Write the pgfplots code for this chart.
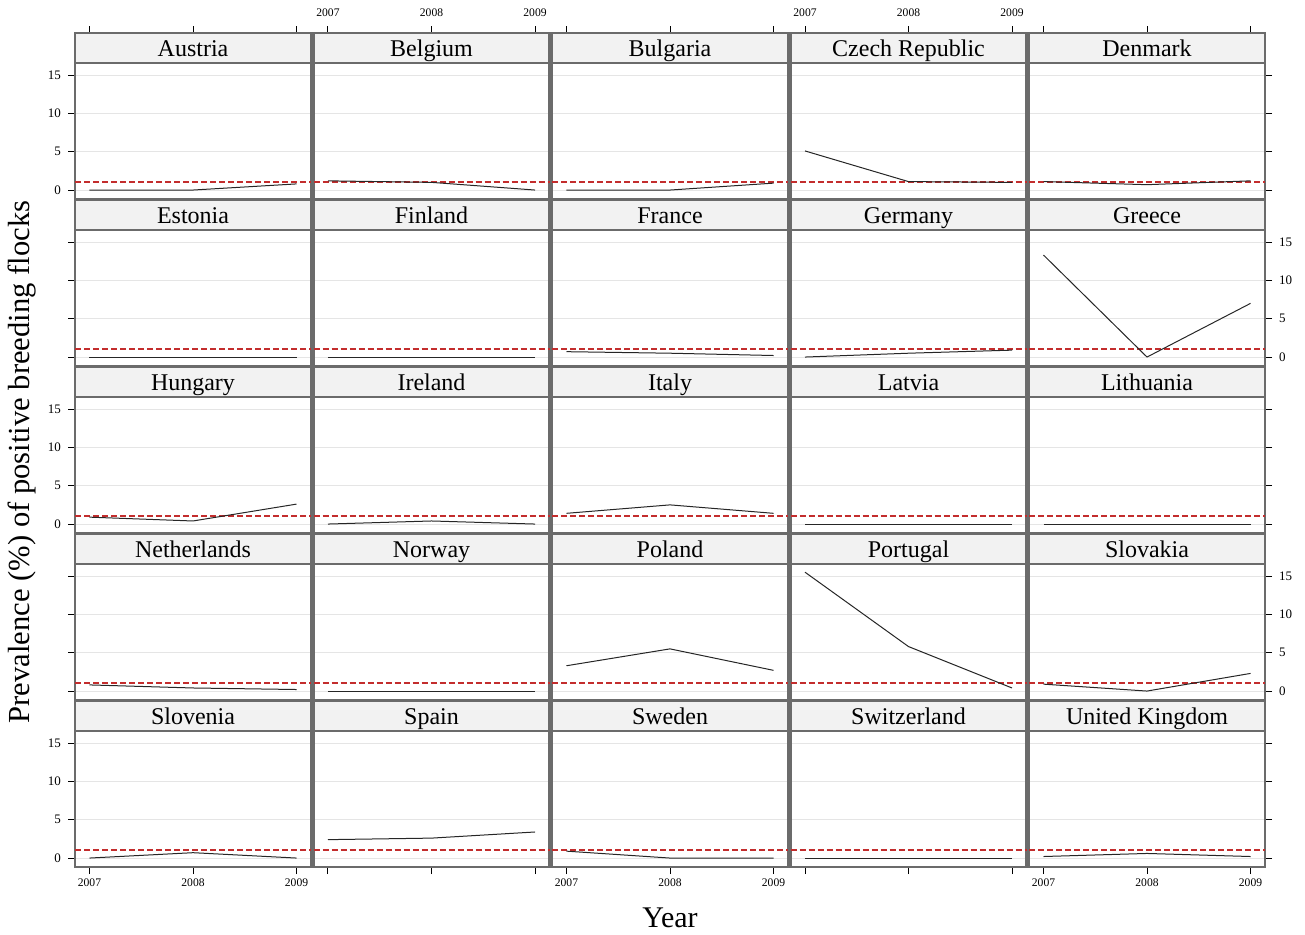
\documentclass[border=0pt]{standalone}
\usepackage{fontspec}
\setmainfont{Liberation Serif}
\usepackage{pgfplots}
\pgfplotsset{compat=1.18}
\definecolor{framec}{gray}{0.42}
\definecolor{stripc}{gray}{0.949}
\definecolor{gridc}{gray}{0.9}
\definecolor{refc}{RGB}{195,45,45}
\newlength{\pu}\setlength{\pu}{0.5pt}
\pgfplotsset{
  common/.style={
    scale only axis, width=236\pu, height=166\pu,
    xmin=2006.86, xmax=2009.14, ymin=-1.17, ymax=20.48,
    xtick={2007,2008,2009}, ytick={0,5,10,15},
    ymajorgrids, major grid style={gridc, line width=0.5pt},
    axis line style={framec, line width=1.2pt},
    tick style={black, line width=0.5pt},
    tick align=outside, major tick length=7\pu,
    tick label style={font=\fontsize{6.5}{7}\selectfont},
    x tick label style={font=\fontsize{5.8}{6}\selectfont, yshift=1pt},
    clip=false, anchor=north west,
  },
  L/.style={ytick pos=left, yticklabels={0,5,10,15}},
  l/.style={ytick pos=left, yticklabels={}},
  R/.style={ytick pos=right, yticklabel pos=right, yticklabels={0,5,10,15}},
  r/.style={ytick pos=right, yticklabels={}},
  M/.style={yticklabels={}, ytick style={draw=none}},
  T/.style={xtick pos=right, xticklabel pos=right, xticklabels={2007,2008,2009}},
  t/.style={xtick pos=right, xticklabels={}},
  B/.style={xtick pos=left, xticklabels={2007,2008,2009}},
  b/.style={xtick pos=left, xticklabels={}},
  N/.style={xtick=\empty},
}
% #1 x px, #2 y px, #3 styles, #4 name, #5 #6 #7 values
\newcommand{\panel}[7]{%
\begin{axis}[common, at={(#1\pu,-#2\pu)}, #3]
\addplot[refc, line width=0.9pt, dash pattern=on 6\pu off 3\pu] coordinates {(2006.86,1) (2009.14,1)};
\addplot[black!85, line width=0.5pt] coordinates {(2007,#5) (2008,#6) (2009,#7)};
\draw[framec, line width=1.2pt, fill=stripc] (rel axis cs:0,0.8193) rectangle (rel axis cs:1,1);
\node[font=\fontsize{12}{14}\selectfont, inner sep=0pt, text height=8.2pt, text depth=2.6pt, yshift=-1.4pt] at (rel axis cs:0.5,0.9096) {#4};
\end{axis}}
\begin{document}
\begin{tikzpicture}
\useasboundingbox (0,0) rectangle (1305\pu,-934\pu);
% row 1
\panel{75}{33}{L,t}{Austria}{0}{0}{0.8}
\panel{313.5}{33}{M,T}{Belgium}{1.2}{1.0}{0}
\panel{552}{33}{M,t}{Bulgaria}{0}{0}{0.9}
\panel{790.5}{33}{M,T}{Czech Republic}{5.1}{1.1}{1.0}
\panel{1029}{33}{r,t}{Denmark}{1.1}{0.7}{1.2}
% row 2
\panel{75}{200}{l,N}{Estonia}{0}{0}{0}
\panel{313.5}{200}{M,N}{Finland}{0}{0}{0}
\panel{552}{200}{M,N}{France}{0.7}{0.5}{0.2}
\panel{790.5}{200}{M,N}{Germany}{0}{0.5}{0.9}
\panel{1029}{200}{R,N}{Greece}{13.3}{0}{7.0}
% row 3
\panel{75}{367}{L,N}{Hungary}{0.9}{0.4}{2.6}
\panel{313.5}{367}{M,N}{Ireland}{0}{0.4}{0}
\panel{552}{367}{M,N}{Italy}{1.4}{2.5}{1.4}
\panel{790.5}{367}{M,N}{Latvia}{0}{0}{0}
\panel{1029}{367}{r,N}{Lithuania}{0}{0}{0}
% row 4
\panel{75}{534}{l,N}{Netherlands}{0.8}{0.4}{0.2}
\panel{313.5}{534}{M,N}{Norway}{0}{0}{0}
\panel{552}{534}{M,N}{Poland}{3.3}{5.5}{2.7}
\panel{790.5}{534}{M,N}{Portugal}{15.5}{5.8}{0.4}
\panel{1029}{534}{R,N}{Slovakia}{0.9}{0}{2.3}
% row 5
\panel{75}{701}{L,B}{Slovenia}{0}{0.7}{0}
\panel{313.5}{701}{M,b}{Spain}{2.4}{2.6}{3.4}
\panel{552}{701}{M,B}{Sweden}{0.9}{0}{0}
\panel{790.5}{701}{M,b}{Switzerland}{0}{0}{0}
\panel{1029}{701}{r,B}{United Kingdom}{0.2}{0.6}{0.2}
\node[rotate=90, font=\fontsize{15.3}{17}\selectfont] at (22\pu,-462\pu) {Prevalence (\%) of positive breeding flocks};
\node[font=\fontsize{15}{17}\selectfont] at (670\pu,-918\pu) {Year};
\end{tikzpicture}
\end{document}
